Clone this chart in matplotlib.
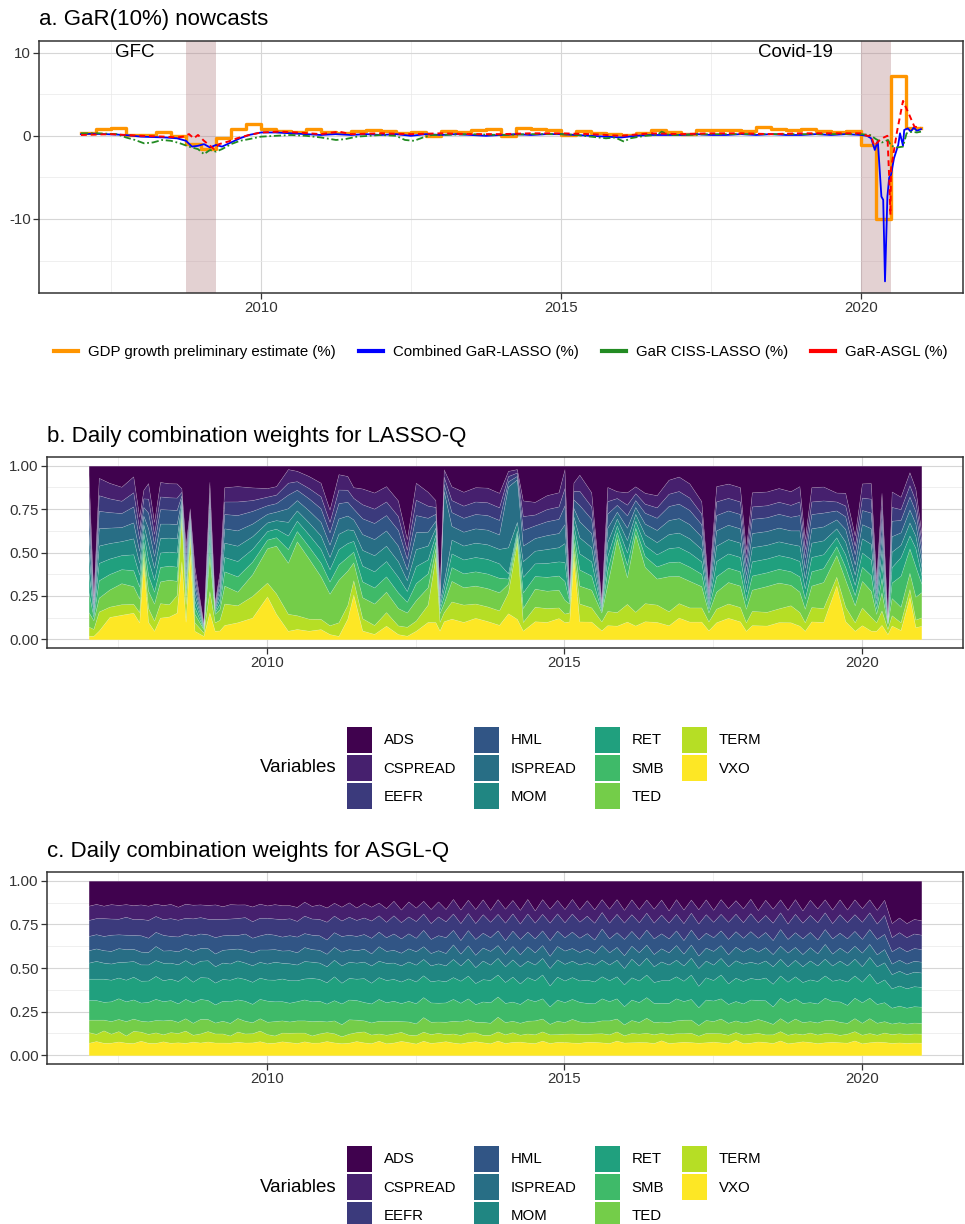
import numpy as np
import pandas as pd
import matplotlib
matplotlib.use("Agg")
import matplotlib.pyplot as plt
from matplotlib.patches import Patch
from matplotlib.lines import Line2D

plt.rcParams['font.family'] = ['Liberation Sans', 'DejaVu Sans']

# ============================ DATA ============================
# ---- Panel a: GaR(10%) nowcasts ----
gdp_quarters = pd.period_range("2007Q1", "2020Q4", freq="Q")
gdp_growth = [0.32, 0.85, 0.97, 0.15,
              0.15, 0.47, -0.08, -0.95,
              -1.55, -0.25, 0.87, 1.40,
              0.79, 0.60, 0.50, 0.79,
              0.44, 0.32, 0.62, 0.69,
              0.54, 0.37, 0.50, -0.03,
              0.62, 0.42, 0.69, 0.79,
              0.02, 0.99, 0.87, 0.64,
              0.05, 0.57, 0.37, 0.17,
              0.12, 0.30, 0.72, 0.47,
              0.17, 0.64, 0.74, 0.64,
              0.57, 1.01, 0.87, 0.64,
              0.79, 0.52, 0.47, 0.52,
              -1.16, -10.0, 7.2, 0.99]

lasso_time = [2007.0, 2007.2, 2007.4, 2007.6, 2007.8, 2008.0, 2008.2, 2008.4, 2008.6, 2008.75,
              2008.85, 2008.95, 2009.05, 2009.15, 2009.25, 2009.35, 2009.5, 2009.65, 2009.8, 2010.0,
              2010.25, 2010.5, 2010.75, 2011.0, 2011.25, 2011.5, 2011.75, 2012.0, 2012.25, 2012.5,
              2012.75, 2013.0, 2013.25, 2013.5, 2013.75, 2014.0, 2014.25, 2014.5, 2014.75, 2015.0,
              2015.25, 2015.5, 2015.75, 2016.0, 2016.25, 2016.5, 2016.75, 2017.0, 2017.25, 2017.5,
              2017.75, 2018.0, 2018.25, 2018.5, 2018.75, 2019.0, 2019.25, 2019.5, 2019.75, 2020.0,
              2020.1, 2020.17, 2020.23, 2020.28, 2020.34, 2020.37, 2020.40, 2020.44, 2020.47, 2020.5,
              2020.55, 2020.62, 2020.65, 2020.7, 2020.72, 2020.78, 2020.83, 2020.88, 2020.93, 2021.0]
lasso_gar = [0.2, 0.25, 0.2, 0.15, 0.05, -0.1, -0.15, -0.2, -0.3, -0.6,
             -1.3, -1.2, -1.0, -1.4, -1.1, -1.3, -0.8, -0.3, 0.1, 0.4,
             0.4, 0.3, 0.2, 0.1, 0.2, 0.1, 0.2, 0.1, 0.2, 0.0,
             0.2, 0.1, 0.2, 0.1, 0.0, 0.1, 0.2, 0.1, 0.2, 0.2,
             0.1, 0.0, -0.1, -0.2, 0.0, 0.1, 0.1, 0.1, 0.2, 0.1,
             0.1, 0.2, 0.1, 0.2, 0.1, 0.1, 0.2, 0.1, 0.2, 0.1,
             0.0, -0.3, -1.7, -0.6, -7.3, -7.7, -17.5, -7.3, -5.0, -4.7,
             -2.7, -1.1, 0.3, -1.2, 0.7, 0.9, 0.5, 1.0, 0.6, 0.8]

ciss_time = [2007.0, 2007.3, 2007.6, 2007.75, 2007.9, 2008.05, 2008.2, 2008.35, 2008.5, 2008.65,
             2008.8, 2008.95, 2009.05, 2009.15, 2009.25, 2009.35, 2009.5, 2009.65, 2009.8, 2010.0,
             2010.25, 2010.5, 2010.75, 2011.0, 2011.25, 2011.4, 2011.6, 2011.8, 2012.0, 2012.25,
             2012.4, 2012.55, 2012.7, 2012.85, 2013.0, 2013.5, 2014.0, 2014.5, 2015.0, 2015.25,
             2015.5, 2015.75, 2015.9, 2016.05, 2016.15, 2016.4, 2016.6, 2016.68, 2016.8, 2017.0,
             2017.5, 2018.0, 2018.5, 2019.0, 2019.5, 2020.0, 2020.15, 2020.25, 2020.35, 2020.45,
             2020.5, 2020.6, 2020.7, 2020.76, 2020.85, 2020.93, 2021.0]
ciss_gar = [0.3, 0.3, 0.2, -0.2, -0.5, -0.9, -0.8, -0.5, -0.6, -0.9,
            -1.3, -1.6, -2.2, -1.7, -1.9, -1.6, -1.0, -0.6, -0.4, -0.1,
            0.0, 0.1, 0.0, -0.2, -0.5, -0.4, -0.1, 0.0, 0.1, 0.0,
            -0.5, -0.6, -0.2, 0.1, 0.1, 0.2, 0.1, 0.2, 0.2, 0.1,
            -0.1, -0.3, -0.2, -0.7, -0.3, 0.0, 0.1, 0.5, 0.1, 0.1,
            0.2, 0.2, 0.2, 0.2, 0.2, 0.2, 0.1, -0.4, -0.8, -0.5,
            -1.2, -1.4, -1.3, 0.3, 0.5, 0.4, 0.5]

asgl_time = [2007.0, 2007.5, 2008.0, 2008.4, 2008.6, 2008.7, 2008.8, 2008.88, 2008.95, 2009.05,
             2009.15, 2009.22, 2009.3, 2009.45, 2009.6, 2009.8, 2010.0, 2010.3, 2010.6, 2011.0,
             2011.3, 2011.5, 2012.0, 2012.5, 2013.0, 2013.5, 2014.0, 2014.5, 2015.0, 2015.5,
             2016.0, 2016.5, 2017.0, 2017.5, 2018.0, 2018.5, 2019.0, 2019.5, 2020.0, 2020.1,
             2020.17, 2020.22, 2020.3, 2020.38, 2020.44, 2020.47, 2020.49, 2020.5, 2020.6, 2020.7,
             2020.8, 2020.89, 2021.0]
asgl_gar = [0.1, 0.2, 0.0, -0.1, -0.2, -0.1, 0.2, -0.3, 0.1, -0.6,
            -1.2, -1.6, -1.0, -0.7, -0.3, 0.1, 0.4, 0.5, 0.4, 0.2,
            0.5, 0.2, 0.3, 0.2, 0.3, 0.2, 0.2, 0.3, 0.3, 0.2,
            0.0, 0.3, 0.2, 0.3, 0.3, 0.2, 0.3, 0.3, 0.3, 0.0,
            0.0, -1.2, -0.6, -0.2, 0.0, -5.0, -9.5, -4.0, 0.5, 4.2,
            2.6, 1.1, 1.0]

episode_names = ["GFC", "Covid-19"]
episode_start = [2008.75, 2020.0]
episode_end = [2009.25, 2020.5]

# ---- Panels b/c: daily combination weights ----
variables = ["ADS", "CSPREAD", "EEFR", "HML", "ISPREAD", "MOM",
             "RET", "SMB", "TED", "TERM", "VXO"]

b_time = [2007.00, 2007.08, 2007.17, 2007.35, 2007.55, 2007.75, 2007.85, 2007.92, 2008.00, 2008.10,
          2008.20, 2008.35, 2008.48, 2008.56, 2008.63, 2008.70, 2008.78, 2008.93, 2009.03, 2009.12,
          2009.20, 2009.28, 2009.50, 2009.75, 2010.00, 2010.15, 2010.35, 2010.50, 2010.70, 2010.90,
          2011.05, 2011.20, 2011.35, 2011.45, 2011.60, 2011.80, 2012.00, 2012.20, 2012.35, 2012.50,
          2012.70, 2012.83, 2012.90, 2012.97, 2013.10, 2013.30, 2013.50, 2013.70, 2013.90, 2014.05,
          2014.20, 2014.30, 2014.50, 2014.70, 2014.90, 2015.00, 2015.08, 2015.15, 2015.25, 2015.45,
          2015.62, 2015.72, 2015.88, 2016.05, 2016.19, 2016.35, 2016.55, 2016.75, 2016.92, 2017.10,
          2017.30, 2017.42, 2017.55, 2017.75, 2017.95, 2018.05, 2018.15, 2018.40, 2018.60, 2018.80,
          2018.95, 2019.04, 2019.15, 2019.35, 2019.57, 2019.72, 2019.88, 2020.00, 2020.15, 2020.24,
          2020.33, 2020.43, 2020.50, 2020.65, 2020.80, 2020.90, 2021.00]

b_vxo = [0.02, 0.02, 0.05, 0.13, 0.14, 0.15, 0.10, 0.44, 0.10, 0.05,
         0.12, 0.13, 0.15, 0.45, 0.10, 0.50, 0.05, 0.02, 0.15, 0.05,
         0.05, 0.08, 0.10, 0.12, 0.25, 0.15, 0.05, 0.06, 0.05, 0.06,
         0.03, 0.02, 0.12, 0.25, 0.05, 0.03, 0.08, 0.03, 0.02, 0.05,
         0.10, 0.10, 0.05, 0.10, 0.12, 0.10, 0.12, 0.10, 0.08, 0.15,
         0.12, 0.05, 0.10, 0.10, 0.12, 0.10, 0.10, 0.48, 0.10, 0.10,
         0.05, 0.08, 0.08, 0.10, 0.08, 0.10, 0.10, 0.08, 0.12, 0.10,
         0.10, 0.05, 0.10, 0.12, 0.10, 0.05, 0.08, 0.08, 0.10, 0.10,
         0.08, 0.05, 0.10, 0.10, 0.30, 0.10, 0.05, 0.08, 0.05, 0.05,
         0.08, 0.03, 0.08, 0.06, 0.26, 0.08, 0.08]
b_term = [0.05, 0.04, 0.11, 0.06, 0.06, 0.05, 0.06, 0.04, 0.08, 0.06,
          0.08, 0.07, 0.10, 0.25, 0.10, 0.10, 0.05, 0.02, 0.12, 0.05,
          0.06, 0.12, 0.10, 0.12, 0.08, 0.12, 0.10, 0.08, 0.07, 0.06,
          0.05, 0.08, 0.08, 0.08, 0.07, 0.05, 0.08, 0.05, 0.05, 0.06,
          0.10, 0.38, 0.05, 0.05, 0.10, 0.10, 0.08, 0.08, 0.08, 0.12,
          0.45, 0.05, 0.08, 0.08, 0.06, 0.05, 0.05, 0.05, 0.10, 0.08,
          0.05, 0.08, 0.08, 0.10, 0.08, 0.10, 0.10, 0.08, 0.08, 0.08,
          0.08, 0.05, 0.08, 0.08, 0.08, 0.05, 0.08, 0.08, 0.08, 0.10,
          0.08, 0.05, 0.08, 0.08, 0.05, 0.08, 0.05, 0.10, 0.08, 0.05,
          0.08, 0.03, 0.06, 0.05, 0.05, 0.05, 0.05]
b_ted = [0.08, 0.05, 0.08, 0.10, 0.12, 0.10, 0.08, 0.04, 0.10, 0.10,
         0.12, 0.14, 0.08, 0.03, 0.05, 0.03, 0.05, 0.02, 0.20, 0.05,
         0.06, 0.10, 0.08, 0.12, 0.20, 0.28, 0.30, 0.43, 0.35, 0.25,
         0.18, 0.25, 0.20, 0.10, 0.12, 0.12, 0.12, 0.10, 0.08, 0.12,
         0.10, 0.05, 0.05, 0.05, 0.12, 0.10, 0.10, 0.10, 0.10, 0.05,
         0.03, 0.08, 0.10, 0.10, 0.10, 0.08, 0.05, 0.05, 0.10, 0.10,
         0.05, 0.15, 0.43, 0.15, 0.45, 0.20, 0.15, 0.20, 0.15, 0.15,
         0.12, 0.05, 0.10, 0.12, 0.12, 0.08, 0.12, 0.15, 0.15, 0.12,
         0.12, 0.08, 0.12, 0.15, 0.12, 0.15, 0.10, 0.15, 0.15, 0.05,
         0.10, 0.03, 0.10, 0.10, 0.10, 0.15, 0.15]
b_smb = [0.11, 0.02, 0.10, 0.09, 0.08, 0.09, 0.07, 0.05, 0.09, 0.07,
         0.08, 0.08, 0.08, 0.02, 0.04, 0.02, 0.04, 0.005, 0.06, 0.01,
         0.03, 0.08, 0.09, 0.07, 0.05, 0.05, 0.08, 0.06, 0.07, 0.08,
         0.07, 0.09, 0.08, 0.06, 0.09, 0.09, 0.09, 0.09, 0.06, 0.10,
         0.08, 0.04, 0.02, 0.04, 0.08, 0.08, 0.08, 0.08, 0.08, 0.03,
         0.02, 0.09, 0.07, 0.08, 0.08, 0.11, 0.01, 0.05, 0.09, 0.08,
         0.01, 0.08, 0.04, 0.07, 0.04, 0.06, 0.07, 0.08, 0.08, 0.08,
         0.07, 0.02, 0.09, 0.08, 0.08, 0.05, 0.08, 0.08, 0.08, 0.08,
         0.09, 0.06, 0.08, 0.08, 0.05, 0.07, 0.06, 0.08, 0.09, 0.03,
         0.08, 0.006, 0.09, 0.20, 0.15, 0.20, 0.05]
b_ret = [0.11, 0.02, 0.10, 0.09, 0.08, 0.09, 0.07, 0.05, 0.09, 0.07,
         0.08, 0.08, 0.08, 0.02, 0.04, 0.02, 0.04, 0.005, 0.06, 0.01,
         0.03, 0.08, 0.09, 0.07, 0.05, 0.05, 0.08, 0.06, 0.07, 0.08,
         0.07, 0.09, 0.08, 0.06, 0.09, 0.09, 0.09, 0.09, 0.06, 0.10,
         0.08, 0.04, 0.02, 0.04, 0.08, 0.08, 0.08, 0.08, 0.08, 0.03,
         0.02, 0.09, 0.07, 0.08, 0.08, 0.11, 0.01, 0.05, 0.09, 0.08,
         0.01, 0.08, 0.04, 0.07, 0.04, 0.06, 0.07, 0.08, 0.08, 0.08,
         0.07, 0.02, 0.09, 0.08, 0.08, 0.05, 0.08, 0.08, 0.08, 0.08,
         0.09, 0.06, 0.08, 0.08, 0.05, 0.07, 0.06, 0.08, 0.09, 0.03,
         0.08, 0.006, 0.09, 0.12, 0.08, 0.12, 0.05]
b_mom = [0.11, 0.02, 0.10, 0.09, 0.08, 0.09, 0.07, 0.05, 0.09, 0.07,
         0.08, 0.08, 0.08, 0.02, 0.04, 0.02, 0.04, 0.005, 0.06, 0.01,
         0.03, 0.08, 0.09, 0.07, 0.05, 0.05, 0.08, 0.06, 0.07, 0.08,
         0.07, 0.09, 0.08, 0.06, 0.09, 0.09, 0.09, 0.09, 0.06, 0.10,
         0.08, 0.04, 0.02, 0.04, 0.08, 0.08, 0.08, 0.08, 0.08, 0.15,
         0.05, 0.09, 0.07, 0.08, 0.08, 0.11, 0.01, 0.05, 0.09, 0.08,
         0.01, 0.08, 0.04, 0.07, 0.04, 0.06, 0.07, 0.08, 0.08, 0.08,
         0.07, 0.02, 0.09, 0.08, 0.08, 0.05, 0.08, 0.08, 0.08, 0.08,
         0.09, 0.06, 0.08, 0.08, 0.05, 0.07, 0.06, 0.08, 0.09, 0.03,
         0.08, 0.006, 0.09, 0.08, 0.08, 0.08, 0.05]
b_ispread = [0.11, 0.02, 0.10, 0.09, 0.08, 0.09, 0.07, 0.05, 0.09, 0.07,
             0.08, 0.08, 0.08, 0.02, 0.04, 0.02, 0.04, 0.005, 0.06, 0.01,
             0.03, 0.08, 0.09, 0.07, 0.05, 0.05, 0.08, 0.06, 0.07, 0.08,
             0.07, 0.09, 0.08, 0.06, 0.09, 0.09, 0.09, 0.09, 0.06, 0.10,
             0.08, 0.04, 0.02, 0.50, 0.08, 0.08, 0.08, 0.08, 0.08, 0.35,
             0.25, 0.09, 0.07, 0.08, 0.08, 0.11, 0.01, 0.05, 0.09, 0.08,
             0.01, 0.08, 0.04, 0.07, 0.04, 0.06, 0.07, 0.08, 0.08, 0.08,
             0.07, 0.02, 0.09, 0.08, 0.08, 0.05, 0.08, 0.08, 0.08, 0.08,
             0.09, 0.06, 0.08, 0.08, 0.05, 0.07, 0.06, 0.08, 0.09, 0.03,
             0.08, 0.006, 0.09, 0.08, 0.08, 0.08, 0.05]
b_hml = [0.11, 0.02, 0.10, 0.09, 0.08, 0.09, 0.07, 0.05, 0.09, 0.07,
         0.08, 0.08, 0.08, 0.02, 0.04, 0.02, 0.04, 0.005, 0.06, 0.01,
         0.03, 0.08, 0.09, 0.07, 0.05, 0.05, 0.08, 0.06, 0.07, 0.08,
         0.07, 0.09, 0.08, 0.06, 0.09, 0.09, 0.09, 0.09, 0.06, 0.10,
         0.08, 0.04, 0.02, 0.04, 0.08, 0.08, 0.08, 0.08, 0.08, 0.03,
         0.02, 0.09, 0.07, 0.08, 0.08, 0.11, 0.01, 0.05, 0.09, 0.08,
         0.01, 0.08, 0.04, 0.07, 0.04, 0.06, 0.07, 0.08, 0.08, 0.08,
         0.07, 0.02, 0.09, 0.08, 0.08, 0.05, 0.08, 0.08, 0.08, 0.08,
         0.09, 0.06, 0.08, 0.08, 0.05, 0.07, 0.06, 0.08, 0.09, 0.03,
         0.08, 0.006, 0.09, 0.08, 0.08, 0.08, 0.05]
b_eefr = [0.10, 0.02, 0.09, 0.08, 0.07, 0.08, 0.06, 0.05, 0.08, 0.06,
          0.07, 0.07, 0.07, 0.02, 0.04, 0.02, 0.04, 0.005, 0.05, 0.01,
          0.03, 0.07, 0.08, 0.06, 0.05, 0.05, 0.07, 0.05, 0.06, 0.07,
          0.06, 0.08, 0.07, 0.06, 0.08, 0.08, 0.08, 0.08, 0.05, 0.09,
          0.07, 0.04, 0.02, 0.04, 0.07, 0.07, 0.07, 0.07, 0.07, 0.03,
          0.02, 0.08, 0.06, 0.07, 0.07, 0.10, 0.01, 0.05, 0.08, 0.07,
          0.01, 0.07, 0.04, 0.06, 0.04, 0.05, 0.06, 0.07, 0.07, 0.07,
          0.06, 0.02, 0.08, 0.07, 0.07, 0.05, 0.07, 0.07, 0.07, 0.07,
          0.08, 0.05, 0.07, 0.07, 0.05, 0.06, 0.05, 0.07, 0.08, 0.03,
          0.07, 0.006, 0.08, 0.07, 0.07, 0.07, 0.05]
b_cspread = [0.11, 0.02, 0.10, 0.09, 0.08, 0.09, 0.07, 0.05, 0.09, 0.07,
             0.08, 0.08, 0.08, 0.02, 0.04, 0.02, 0.04, 0.005, 0.06, 0.01,
             0.03, 0.08, 0.09, 0.07, 0.05, 0.05, 0.08, 0.06, 0.07, 0.08,
             0.07, 0.09, 0.08, 0.06, 0.09, 0.09, 0.09, 0.09, 0.06, 0.10,
             0.08, 0.04, 0.02, 0.04, 0.08, 0.08, 0.08, 0.08, 0.08, 0.03,
             0.02, 0.09, 0.07, 0.08, 0.08, 0.11, 0.01, 0.05, 0.09, 0.08,
             0.01, 0.08, 0.04, 0.07, 0.04, 0.06, 0.07, 0.08, 0.08, 0.08,
             0.07, 0.02, 0.09, 0.08, 0.08, 0.05, 0.08, 0.08, 0.08, 0.08,
             0.09, 0.06, 0.08, 0.08, 0.05, 0.07, 0.06, 0.08, 0.09, 0.03,
             0.08, 0.006, 0.09, 0.08, 0.08, 0.08, 0.05]
b_ads = [0.05, 0.75, 0.07, 0.10, 0.12, 0.06, 0.30, 0.14, 0.10, 0.33,
         0.09, 0.10, 0.10, 0.13, 0.45, 0.25, 0.60, 0.92, 0.09, 0.80,
         0.60, 0.12, 0.12, 0.12, 0.13, 0.12, 0.02, 0.03, 0.06, 0.10,
         0.25, 0.05, 0.06, 0.12, 0.13, 0.15, 0.12, 0.20, 0.41, 0.10,
         0.15, 0.20, 0.70, 0.02, 0.12, 0.15, 0.12, 0.12, 0.15, 0.03,
         0.02, 0.20, 0.20, 0.17, 0.15, 0.02, 0.70, 0.10, 0.05, 0.15,
         0.75, 0.12, 0.15, 0.15, 0.12, 0.15, 0.17, 0.08, 0.06, 0.10,
         0.20, 0.68, 0.12, 0.10, 0.12, 0.49, 0.15, 0.15, 0.13, 0.15,
         0.12, 0.43, 0.12, 0.12, 0.15, 0.15, 0.41, 0.10, 0.10, 0.66,
         0.15, 0.87, 0.15, 0.20, 0.04, 0.15, 0.40]

# Panel c sampled every 1/8 year from 2007.0 to 2021.0 (8 values per year row)
c_time = 2007.0 + np.arange(113) / 8.0
c_ads = [0.14, 0.13, 0.14, 0.13, 0.14, 0.13, 0.14, 0.13,
         0.14, 0.13, 0.14, 0.13, 0.14, 0.13, 0.14, 0.13,
         0.14, 0.13, 0.14, 0.13, 0.14, 0.13, 0.14, 0.13,
         0.14, 0.13, 0.14, 0.13, 0.15, 0.12, 0.14, 0.13,
         0.15, 0.12, 0.15, 0.12, 0.15, 0.12, 0.15, 0.12,
         0.16, 0.11, 0.16, 0.11, 0.16, 0.11, 0.16, 0.11,
         0.16, 0.10, 0.17, 0.10, 0.16, 0.10, 0.17, 0.10,
         0.16, 0.10, 0.17, 0.10, 0.17, 0.10, 0.16, 0.10,
         0.17, 0.10, 0.16, 0.10, 0.17, 0.10, 0.16, 0.10,
         0.16, 0.10, 0.17, 0.10, 0.16, 0.10, 0.17, 0.10,
         0.17, 0.10, 0.16, 0.10, 0.17, 0.10, 0.16, 0.10,
         0.16, 0.10, 0.17, 0.10, 0.16, 0.10, 0.17, 0.10,
         0.17, 0.10, 0.16, 0.10, 0.17, 0.10, 0.16, 0.10,
         0.16, 0.10, 0.17, 0.10, 0.24, 0.20, 0.24, 0.21,
         0.22]
c_cspread = [0.08, 0.08, 0.07, 0.08, 0.08, 0.07, 0.08, 0.08,
             0.08, 0.07, 0.08, 0.08, 0.07, 0.08, 0.08, 0.07,
             0.08, 0.08, 0.07, 0.08, 0.08, 0.07, 0.08, 0.08,
             0.07, 0.08, 0.08, 0.07, 0.08, 0.08, 0.07, 0.08,
             0.08, 0.07, 0.08, 0.08, 0.07, 0.08, 0.08, 0.07,
             0.08, 0.08, 0.07, 0.08, 0.08, 0.07, 0.08, 0.08,
             0.07, 0.08, 0.08, 0.07, 0.08, 0.08, 0.07, 0.08,
             0.08, 0.07, 0.08, 0.08, 0.07, 0.08, 0.08, 0.07,
             0.08, 0.08, 0.07, 0.08, 0.08, 0.07, 0.08, 0.08,
             0.07, 0.08, 0.08, 0.07, 0.08, 0.08, 0.07, 0.08,
             0.08, 0.07, 0.08, 0.08, 0.07, 0.08, 0.08, 0.07,
             0.08, 0.08, 0.07, 0.08, 0.08, 0.07, 0.08, 0.08,
             0.07, 0.08, 0.08, 0.07, 0.08, 0.08, 0.07, 0.08,
             0.08, 0.07, 0.08, 0.08, 0.08, 0.08, 0.08, 0.08,
             0.08]
c_eefr = [0.09, 0.09, 0.10, 0.09, 0.09, 0.10, 0.09, 0.09,
          0.10, 0.09, 0.09, 0.10, 0.09, 0.09, 0.10, 0.09,
          0.09, 0.10, 0.09, 0.09, 0.10, 0.09, 0.09, 0.10,
          0.09, 0.09, 0.10, 0.09, 0.09, 0.10, 0.09, 0.09,
          0.10, 0.09, 0.09, 0.10, 0.09, 0.09, 0.10, 0.09,
          0.09, 0.10, 0.09, 0.09, 0.10, 0.09, 0.09, 0.10,
          0.09, 0.09, 0.10, 0.09, 0.09, 0.10, 0.09, 0.09,
          0.10, 0.09, 0.09, 0.10, 0.09, 0.09, 0.10, 0.09,
          0.09, 0.10, 0.09, 0.09, 0.10, 0.09, 0.09, 0.10,
          0.09, 0.09, 0.10, 0.09, 0.09, 0.10, 0.09, 0.09,
          0.10, 0.09, 0.09, 0.10, 0.09, 0.09, 0.10, 0.09,
          0.09, 0.10, 0.09, 0.09, 0.10, 0.09, 0.09, 0.10,
          0.09, 0.09, 0.10, 0.09, 0.09, 0.10, 0.09, 0.09,
          0.10, 0.09, 0.09, 0.10, 0.08, 0.08, 0.08, 0.08,
          0.08]
c_hml = [0.08, 0.08, 0.08, 0.09, 0.08, 0.08, 0.08, 0.09,
         0.08, 0.08, 0.09, 0.08, 0.08, 0.08, 0.09, 0.08,
         0.08, 0.09, 0.08, 0.08, 0.08, 0.09, 0.08, 0.08,
         0.09, 0.08, 0.08, 0.08, 0.09, 0.08, 0.08, 0.08,
         0.08, 0.08, 0.09, 0.08, 0.08, 0.08, 0.09, 0.08,
         0.08, 0.09, 0.08, 0.08, 0.08, 0.09, 0.08, 0.08,
         0.09, 0.08, 0.08, 0.08, 0.09, 0.08, 0.08, 0.08,
         0.08, 0.08, 0.09, 0.08, 0.08, 0.08, 0.09, 0.08,
         0.08, 0.09, 0.08, 0.08, 0.08, 0.09, 0.08, 0.08,
         0.09, 0.08, 0.08, 0.08, 0.09, 0.08, 0.08, 0.08,
         0.08, 0.08, 0.09, 0.08, 0.08, 0.08, 0.09, 0.08,
         0.08, 0.09, 0.08, 0.08, 0.08, 0.09, 0.08, 0.08,
         0.09, 0.08, 0.08, 0.08, 0.09, 0.08, 0.08, 0.08,
         0.08, 0.08, 0.09, 0.08, 0.07, 0.07, 0.07, 0.07,
         0.07]
c_ispread = [0.07, 0.07, 0.07, 0.07, 0.08, 0.07, 0.07, 0.07,
             0.07, 0.08, 0.07, 0.07, 0.07, 0.07, 0.08, 0.07,
             0.07, 0.07, 0.07, 0.08, 0.07, 0.07, 0.07, 0.07,
             0.08, 0.07, 0.07, 0.07, 0.07, 0.08, 0.07, 0.07,
             0.07, 0.07, 0.08, 0.07, 0.07, 0.07, 0.07, 0.08,
             0.07, 0.07, 0.07, 0.07, 0.08, 0.07, 0.07, 0.07,
             0.07, 0.08, 0.07, 0.07, 0.07, 0.07, 0.08, 0.07,
             0.07, 0.07, 0.07, 0.08, 0.07, 0.07, 0.07, 0.07,
             0.08, 0.07, 0.07, 0.07, 0.07, 0.08, 0.07, 0.07,
             0.07, 0.07, 0.08, 0.07, 0.07, 0.07, 0.07, 0.08,
             0.07, 0.07, 0.07, 0.07, 0.08, 0.07, 0.07, 0.07,
             0.07, 0.08, 0.07, 0.07, 0.07, 0.07, 0.08, 0.07,
             0.07, 0.07, 0.07, 0.08, 0.07, 0.07, 0.07, 0.07,
             0.08, 0.07, 0.07, 0.07, 0.06, 0.06, 0.06, 0.06,
             0.06]
c_mom = [0.09, 0.10, 0.09, 0.09, 0.09, 0.10, 0.09, 0.09,
         0.09, 0.09, 0.10, 0.09, 0.09, 0.09, 0.10, 0.09,
         0.10, 0.09, 0.09, 0.09, 0.10, 0.09, 0.09, 0.09,
         0.09, 0.10, 0.09, 0.09, 0.09, 0.10, 0.09, 0.09,
         0.09, 0.09, 0.10, 0.09, 0.09, 0.09, 0.10, 0.09,
         0.10, 0.09, 0.09, 0.09, 0.10, 0.09, 0.09, 0.09,
         0.09, 0.10, 0.09, 0.09, 0.09, 0.10, 0.09, 0.09,
         0.09, 0.09, 0.10, 0.09, 0.09, 0.09, 0.10, 0.09,
         0.10, 0.09, 0.09, 0.09, 0.10, 0.09, 0.09, 0.09,
         0.09, 0.10, 0.09, 0.09, 0.09, 0.10, 0.09, 0.09,
         0.09, 0.09, 0.10, 0.09, 0.09, 0.09, 0.10, 0.09,
         0.10, 0.09, 0.09, 0.09, 0.10, 0.09, 0.09, 0.09,
         0.09, 0.10, 0.09, 0.09, 0.09, 0.10, 0.09, 0.09,
         0.09, 0.09, 0.10, 0.09, 0.08, 0.08, 0.08, 0.08,
         0.08]
c_ret = [0.12, 0.12, 0.13, 0.12, 0.12, 0.12, 0.13, 0.12,
         0.12, 0.13, 0.12, 0.12, 0.12, 0.13, 0.12, 0.12,
         0.13, 0.12, 0.12, 0.12, 0.13, 0.12, 0.12, 0.12,
         0.12, 0.12, 0.13, 0.12, 0.12, 0.12, 0.13, 0.12,
         0.12, 0.13, 0.12, 0.12, 0.12, 0.13, 0.12, 0.12,
         0.13, 0.12, 0.12, 0.12, 0.13, 0.12, 0.12, 0.12,
         0.12, 0.12, 0.13, 0.12, 0.12, 0.12, 0.13, 0.12,
         0.12, 0.13, 0.12, 0.12, 0.12, 0.13, 0.12, 0.12,
         0.13, 0.12, 0.12, 0.12, 0.13, 0.12, 0.12, 0.12,
         0.12, 0.12, 0.13, 0.12, 0.12, 0.12, 0.13, 0.12,
         0.12, 0.13, 0.12, 0.12, 0.12, 0.13, 0.12, 0.12,
         0.13, 0.12, 0.12, 0.12, 0.13, 0.12, 0.12, 0.12,
         0.12, 0.12, 0.13, 0.12, 0.12, 0.12, 0.13, 0.12,
         0.12, 0.13, 0.12, 0.12, 0.11, 0.11, 0.11, 0.11,
         0.11]
c_smb = [0.11, 0.11, 0.10, 0.11, 0.12, 0.11, 0.11, 0.10,
         0.11, 0.12, 0.11, 0.11, 0.10, 0.11, 0.12, 0.11,
         0.11, 0.10, 0.11, 0.12, 0.11, 0.11, 0.10, 0.11,
         0.12, 0.11, 0.11, 0.10, 0.11, 0.12, 0.11, 0.11,
         0.10, 0.11, 0.12, 0.11, 0.11, 0.10, 0.11, 0.12,
         0.11, 0.11, 0.10, 0.11, 0.12, 0.11, 0.11, 0.10,
         0.11, 0.12, 0.11, 0.11, 0.10, 0.11, 0.12, 0.11,
         0.11, 0.10, 0.11, 0.12, 0.11, 0.11, 0.10, 0.11,
         0.12, 0.11, 0.11, 0.10, 0.11, 0.12, 0.11, 0.11,
         0.10, 0.11, 0.12, 0.11, 0.11, 0.10, 0.11, 0.12,
         0.11, 0.11, 0.10, 0.11, 0.12, 0.11, 0.11, 0.10,
         0.11, 0.12, 0.11, 0.11, 0.10, 0.11, 0.12, 0.11,
         0.11, 0.10, 0.11, 0.12, 0.11, 0.11, 0.10, 0.11,
         0.12, 0.11, 0.11, 0.10, 0.09, 0.09, 0.09, 0.09,
         0.09]
c_ted = [0.07, 0.08, 0.06, 0.07, 0.07, 0.08, 0.07, 0.06,
         0.07, 0.07, 0.08, 0.07, 0.06, 0.07, 0.07, 0.08,
         0.07, 0.06, 0.07, 0.07, 0.08, 0.07, 0.06, 0.07,
         0.07, 0.08, 0.07, 0.06, 0.07, 0.07, 0.08, 0.07,
         0.06, 0.07, 0.07, 0.08, 0.07, 0.06, 0.07, 0.07,
         0.08, 0.07, 0.06, 0.07, 0.07, 0.08, 0.07, 0.06,
         0.07, 0.07, 0.08, 0.07, 0.06, 0.07, 0.07, 0.08,
         0.07, 0.06, 0.07, 0.07, 0.08, 0.07, 0.06, 0.07,
         0.07, 0.08, 0.07, 0.06, 0.07, 0.07, 0.08, 0.07,
         0.06, 0.07, 0.07, 0.08, 0.07, 0.06, 0.07, 0.07,
         0.08, 0.07, 0.06, 0.07, 0.07, 0.08, 0.07, 0.06,
         0.07, 0.07, 0.08, 0.07, 0.06, 0.07, 0.07, 0.08,
         0.07, 0.06, 0.07, 0.07, 0.08, 0.07, 0.06, 0.07,
         0.07, 0.08, 0.07, 0.06, 0.06, 0.06, 0.06, 0.06,
         0.06]
c_term = [0.06, 0.04, 0.07, 0.05, 0.06, 0.04, 0.07, 0.05,
          0.05, 0.06, 0.04, 0.06, 0.05, 0.07, 0.04, 0.05,
          0.06, 0.05, 0.05, 0.04, 0.06, 0.05, 0.05, 0.06,
          0.05, 0.04, 0.05, 0.05, 0.06, 0.05, 0.04, 0.05,
          0.05, 0.05, 0.04, 0.05, 0.05, 0.06, 0.05, 0.04,
          0.05, 0.05, 0.05, 0.04, 0.05, 0.05, 0.05, 0.05,
          0.04, 0.05, 0.05, 0.05, 0.05, 0.04, 0.05, 0.05,
          0.05, 0.05, 0.04, 0.05, 0.05, 0.05, 0.05, 0.04,
          0.05, 0.05, 0.05, 0.04, 0.05, 0.05, 0.05, 0.05,
          0.04, 0.05, 0.05, 0.05, 0.05, 0.04, 0.05, 0.05,
          0.05, 0.05, 0.04, 0.05, 0.05, 0.05, 0.05, 0.04,
          0.05, 0.05, 0.05, 0.04, 0.05, 0.05, 0.05, 0.05,
          0.04, 0.05, 0.05, 0.05, 0.05, 0.04, 0.05, 0.05,
          0.05, 0.05, 0.04, 0.05, 0.05, 0.05, 0.05, 0.05,
          0.05]
c_vxo = [0.07, 0.08, 0.07, 0.07, 0.08, 0.07, 0.07, 0.08,
         0.07, 0.07, 0.08, 0.07, 0.07, 0.07, 0.08, 0.07,
         0.08, 0.07, 0.07, 0.07, 0.08, 0.07, 0.07, 0.08,
         0.07, 0.07, 0.08, 0.07, 0.07, 0.08, 0.07, 0.07,
         0.08, 0.07, 0.07, 0.07, 0.08, 0.07, 0.07, 0.08,
         0.07, 0.07, 0.08, 0.07, 0.07, 0.08, 0.07, 0.07,
         0.08, 0.07, 0.07, 0.07, 0.08, 0.07, 0.07, 0.08,
         0.07, 0.07, 0.08, 0.07, 0.07, 0.08, 0.07, 0.07,
         0.08, 0.07, 0.07, 0.07, 0.08, 0.07, 0.07, 0.08,
         0.07, 0.07, 0.08, 0.07, 0.07, 0.08, 0.07, 0.07,
         0.08, 0.07, 0.07, 0.07, 0.08, 0.07, 0.07, 0.08,
         0.07, 0.07, 0.08, 0.07, 0.07, 0.08, 0.07, 0.07,
         0.08, 0.07, 0.07, 0.07, 0.08, 0.07, 0.07, 0.08,
         0.07, 0.07, 0.08, 0.07, 0.07, 0.07, 0.07, 0.07,
         0.07]

# ============================ FIGURE ============================
W, H = 965, 1224
fig = plt.figure(figsize=(W / 100, H / 100), dpi=100)


def px_axes(left, top, right, bottom):
    return fig.add_axes([left / W, 1 - bottom / H, (right - left) / W, (bottom - top) / H])


TICK_FS = 10.8
INK = "#333333"


def style(ax, yticks, ylabels, yminor, ylim):
    ax.set_xlim(2006.3, 2021.7)
    ax.set_ylim(*ylim)
    ax.set_xticks([2010, 2015, 2020])
    ax.set_xticklabels(["2010", "2015", "2020"])
    ax.set_xticks([2007.5, 2012.5, 2017.5], minor=True)
    ax.set_yticks(yticks)
    ax.set_yticklabels(ylabels)
    ax.set_yticks(yminor, minor=True)
    ax.grid(which="major", color="#d6d6d6", lw=0.8)
    ax.grid(which="minor", color="#e9e9e9", lw=0.5)
    ax.set_axisbelow(True)
    ax.tick_params(which="minor", length=0)
    ax.tick_params(which="major", length=4, width=0.9, color=INK,
                   labelsize=TICK_FS, labelcolor=INK, pad=2)
    for s in ax.spines.values():
        s.set_color(INK)
        s.set_linewidth(1.1)


# ---------------- Panel a ----------------
axa = px_axes(39, 41, 963, 293)
style(axa, [-10, 0, 10], ["-10", "0", "10"], [-15, -5, 5], (-18.9, 11.4))

for s, e in zip(episode_start, episode_end):
    axa.axvspan(s, e, color="#b07c80", alpha=0.35, lw=0, zorder=1)

gdp_x = [p.year + (p.quarter - 1) / 4 for p in gdp_quarters] + [2021.0]
gdp_y = list(gdp_growth) + [gdp_growth[-1]]
axa.step(gdp_x, gdp_y, where="post", color="#FF9500", lw=2.4, zorder=3)
axa.plot(lasso_time, lasso_gar, color="#0000FF", lw=1.3, zorder=4)
axa.plot(ciss_time, ciss_gar, color="#228B22", lw=1.3, ls=(0, (4, 1.5, 1, 1.5)), zorder=4)
axa.plot(asgl_time, asgl_gar, color="#FF0000", lw=1.4, ls=(0, (3, 2)), zorder=5)

axa.text(2007.9, 10, episode_names[0], fontsize=13.5, ha="center", va="center", color="black")
axa.text(2018.9, 10, episode_names[1], fontsize=13.5, ha="center", va="center", color="black")

fig.text(39 / W, 1 - 20 / H, "a. GaR(10%) nowcasts", fontsize=16, ha="left", va="center")

line_handles = [Line2D([], [], color="#FF9500", lw=3),
                Line2D([], [], color="#0000FF", lw=3),
                Line2D([], [], color="#228B22", lw=3),
                Line2D([], [], color="#FF0000", lw=3)]
line_labels = ["GDP growth preliminary estimate (%)", "Combined GaR-LASSO (%)",
               "GaR CISS-LASSO (%)", "GaR-ASGL (%)"]
# legend centred under the panel area, as ggplot places a bottom legend
fig.legend(line_handles, line_labels, ncol=4, loc="center",
           bbox_to_anchor=(501 / W, 1 - 352 / H), frameon=False, fontsize=TICK_FS,
           handlelength=1.6, handletextpad=0.7, columnspacing=1.5,
           borderpad=0, borderaxespad=0)

# ---------------- Panels b & c ----------------
# viridis(11) as it renders in the reference (slightly deeper tones)
var_colors = ["#40024e", "#46206e", "#3b3a7c", "#315585", "#286e85", "#208682",
              "#20a07e", "#3fba69", "#74cd49", "#b6de25", "#fde725"]
var_color = dict(zip(variables, var_colors))
stack_order = ["VXO", "TERM", "TED", "SMB", "RET", "MOM", "ISPREAD", "HML", "EEFR", "CSPREAD", "ADS"]

b_layers = {"ADS": b_ads, "CSPREAD": b_cspread, "EEFR": b_eefr, "HML": b_hml,
            "ISPREAD": b_ispread, "MOM": b_mom, "RET": b_ret, "SMB": b_smb,
            "TED": b_ted, "TERM": b_term, "VXO": b_vxo}
c_layers = {"ADS": c_ads, "CSPREAD": c_cspread, "EEFR": c_eefr, "HML": c_hml,
            "ISPREAD": c_ispread, "MOM": c_mom, "RET": c_ret, "SMB": c_smb,
            "TED": c_ted, "TERM": c_term, "VXO": c_vxo}


def weights_panel(top, bottom, title_y, t, layers, title):
    ax = px_axes(47, top, 963, bottom)
    style(ax, [0, 0.25, 0.5, 0.75, 1.0], ["0.00", "0.25", "0.50", "0.75", "1.00"],
          [0.125, 0.375, 0.625, 0.875], (-0.05, 1.05))
    w = np.array([layers[v] for v in stack_order], dtype=float)
    w = w / w.sum(axis=0)  # shares of the combination (position = "fill")
    ax.stackplot(t, w, colors=[var_color[v] for v in stack_order],
                 edgecolor=(1, 1, 1, 0.22), linewidth=0.4, zorder=2)
    fig.text(47 / W, 1 - title_y / H, title, fontsize=16, ha="left", va="center")
    return ax


weights_panel(457, 648, 436, b_time, b_layers, "b. Daily combination weights for LASSO-Q")
weights_panel(872, 1064, 851, c_time, c_layers, "c. Daily combination weights for ASGL-Q")


def var_legend(center_y):
    handles = [Patch(facecolor=var_color[v], edgecolor="none") for v in variables]
    fig.legend(handles, variables, ncol=4, loc="center left",
               bbox_to_anchor=(347 / W, 1 - center_y / H), frameon=False,
               fontsize=TICK_FS, handlelength=1.65, handleheight=2.3,
               labelspacing=0.15, handletextpad=0.8, columnspacing=1.2,
               borderpad=0, borderaxespad=0)
    fig.text(337 / W, 1 - center_y / H, "Variables", fontsize=13.5, ha="right", va="center")


var_legend(768)
var_legend(1187)

fig.savefig("out.png", dpi=100)
